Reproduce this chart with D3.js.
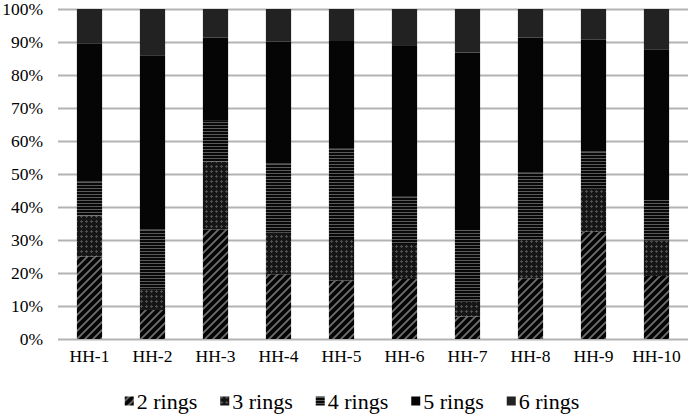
<!DOCTYPE html>
<html>
<head>
<meta charset="utf-8">
<script src="https://cdn.jsdelivr.net/npm/d3@7"></script>
<style>
  body { margin: 0; background: #fff; }
  svg text { font-family: "Liberation Serif", "Times New Roman", serif; fill: #000; }
</style>
</head>
<body>
<script>
// households and the share (%) of each ring count
var households = ["HH-1","HH-2","HH-3","HH-4","HH-5","HH-6","HH-7","HH-8","HH-9","HH-10"];
var series = ["2 rings","3 rings","4 rings","5 rings","6 rings"];
var rings2 = [25.0, 8.8, 33.2, 19.6, 17.7, 18.2, 6.8, 18.4, 32.5, 19.1];
var rings3 = [12.4, 6.3, 20.5, 12.7, 12.6, 10.3, 4.5, 11.6, 13.2, 10.7];
var rings4 = [10.3, 18.1, 12.4, 20.9, 27.5, 14.6, 21.7, 20.4, 11.1, 12.3];
var rings5 = [41.9, 52.6, 25.2, 36.9, 32.5, 45.7, 53.8, 40.9, 34.0, 45.7];
var rings6 = [10.4, 14.2, 8.7, 9.9, 9.7, 11.2, 13.2, 8.7, 9.2, 12.2];
var yTicks = [0,10,20,30,40,50,60,70,80,90,100];

var W = 690, H = 416;
var margin = {left: 58, right: 2, top: 9, bottom: 77};

var rows = households.map(function(h, i) {
  return {hh: h, "2 rings": rings2[i], "3 rings": rings3[i], "4 rings": rings4[i],
          "5 rings": rings5[i], "6 rings": rings6[i]};
});

var svg = d3.select("body").append("svg")
  .attr("width", W).attr("height", H);

// fill patterns
var defs = svg.append("defs");
var p2 = defs.append("pattern").attr("id","p2").attr("patternUnits","userSpaceOnUse")
  .attr("width",8).attr("height",8);
p2.append("rect").attr("width",8).attr("height",8).attr("fill","#050505");
p2.append("path").attr("d","M-2,2 L2,-2 M0,8 L8,0 M6,10 L10,6")
  .attr("stroke","#6e6e6e").attr("stroke-width",1.8);

var p3 = defs.append("pattern").attr("id","p3").attr("patternUnits","userSpaceOnUse")
  .attr("width",5).attr("height",5);
p3.append("rect").attr("width",5).attr("height",5).attr("fill","#151515");
p3.append("path").attr("d","M1,0 h1 v1 h1 v1 h-1 v1 h-1 v-1 h-1 v-1 h1 z")
  .attr("fill","#4e4e4e");

var p4 = defs.append("pattern").attr("id","p4").attr("patternUnits","userSpaceOnUse")
  .attr("width",6).attr("height",3);
p4.append("rect").attr("width",6).attr("height",3).attr("fill","#080808");
p4.append("rect").attr("y",2).attr("width",6).attr("height",1).attr("fill","#5a5a5a");

var fills = {"2 rings":"url(#p2)","3 rings":"url(#p3)","4 rings":"url(#p4)",
             "5 rings":"#050505","6 rings":"#222"};

var x = d3.scaleBand().domain(households)
  .range([margin.left, W - margin.right]).paddingInner(0.6).paddingOuter(0.3);
var y = d3.scaleLinear().domain([0,100]).range([H - margin.bottom, margin.top]);

// gridlines + y labels
var yAxis = svg.append("g")
  .attr("transform","translate(" + margin.left + ",0)")
  .call(d3.axisLeft(y).tickValues(yTicks)
    .tickSize(-(W - margin.left - margin.right))
    .tickFormat(function(d){ return d + "%"; }));
yAxis.attr("font-family", null);
yAxis.select(".domain").remove();
yAxis.selectAll(".tick line").attr("stroke","#b3b3b3").attr("stroke-width",2);
yAxis.selectAll(".tick text").attr("x",-15).attr("font-size",17.5);

var stack = d3.stack().keys(series);
svg.append("g").selectAll("g")
  .data(stack(rows)).join("g")
  .attr("fill", function(d){ return fills[d.key]; })
  .selectAll("rect").data(function(d){ return d; }).join("rect")
  .attr("x", function(d){ return x(d.data.hh); })
  .attr("width", x.bandwidth())
  .attr("y", function(d){ return y(d[1]); })
  .attr("height", function(d){ return y(d[0]) - y(d[1]); });

// x labels
var xAxis = svg.append("g")
  .attr("transform","translate(0," + (H - margin.bottom) + ")")
  .call(d3.axisBottom(x).tickSize(0).tickPadding(11));
xAxis.attr("font-family", null);
xAxis.select(".domain").remove();
xAxis.selectAll(".tick text").attr("font-size",17.5);

// legend, items laid out one after another and centred
var legend = svg.append("g");
var item = legend.selectAll("g").data(series).join("g");
item.append("rect").attr("x",0).attr("y",-4.5).attr("width",9).attr("height",9)
  .attr("fill", function(d){ return fills[d]; });
item.append("text").attr("x",12).attr("dy","0.35em").attr("font-size",22)
  .text(function(d){ return d; });
var cx = 0;
item.each(function() {
  var g = d3.select(this);
  g.attr("transform", "translate(" + cx + ",0)");
  cx += 12 + g.select("text").node().getComputedTextLength() + 23;
});
cx -= 23;
legend.attr("transform", "translate(" + (352 - cx / 2) + ",401)");
</script>
</body>
</html>
